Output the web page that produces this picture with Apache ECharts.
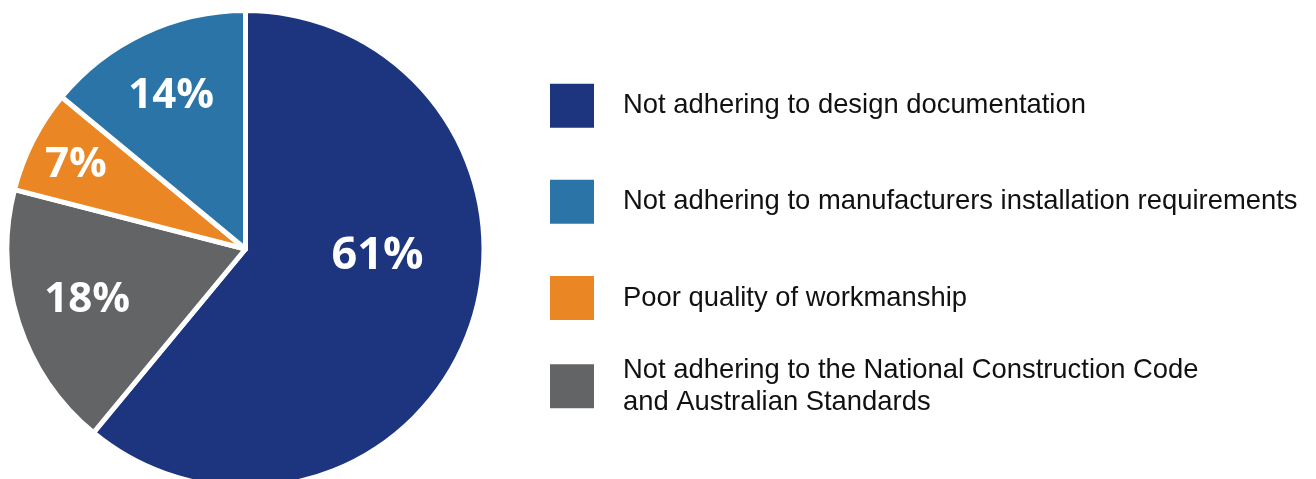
<!DOCTYPE html>
<html>
<head>
<meta charset="utf-8">
<script src="https://cdn.jsdelivr.net/npm/echarts@6/dist/echarts.min.js"></script>
<style>
  html, body { margin: 0; padding: 0; background: #ffffff; }
  #chart { width: 1316px; height: 479px; }
</style>
</head>
<body>
<div id="chart"></div>
<script>
// Causes of defects, share of total (%)
const categories = [
  'Not adhering to design documentation',
  'Not adhering to manufacturers installation requirements',
  'Poor quality of workmanship',
  'Not adhering to the National Construction Code\nand Australian Standards'
];
const shares = [61, 14, 7, 18];
const colors = ['#1d357f', '#2a74a8', '#ea8623', '#636466'];

// Slices run clockwise from 12 o'clock in this order (indices into categories)
const sliceOrder = [0, 3, 2, 1];
// Value label tweaks per category: nudge from the slice mid-radius, and font size
const labelOffsets = [[17, -34], [-22.3, -42], [-60.7, -28], [-42, 13]];
const labelSizes = [45, 42, 42, 42];

const pieData = sliceOrder.map(i => ({
  name: categories[i],
  value: shares[i],
  itemStyle: { color: colors[i] },
  label: { offset: labelOffsets[i], fontSize: labelSizes[i] }
}));

const legendText = {
  fontFamily: 'Liberation Sans, Arial, sans-serif',
  fontSize: 27.4,
  lineHeight: 31.5,
  color: '#111111',
  padding: [0, 0, 0, 23]
};
const legendBase = {
  orient: 'vertical',
  left: 548,
  padding: 0,
  icon: 'rect',
  itemWidth: 46,
  itemHeight: 46,
  selectedMode: false,
  textStyle: legendText
};

const chart = echarts.init(document.getElementById('chart'), null, { renderer: 'canvas' });
chart.setOption({
  animation: false,
  backgroundColor: '#ffffff',
  color: colors,
  legend: [
    Object.assign({}, legendBase, { top: 81.7, itemGap: 48.15, data: categories.slice(0, 3) }),
    Object.assign({}, legendBase, { top: 354.8, data: categories.slice(3) })
  ],
  series: [{
    type: 'pie',
    center: [245.5, 249],
    radius: [0, 238.5],
    startAngle: 90,
    clockwise: true,
    silent: true,
    itemStyle: { borderColor: '#ffffff', borderWidth: 5 },
    label: {
      show: true,
      position: 'inside',
      formatter: '{c}%',
      color: '#ffffff',
      fontFamily: 'Open Sans, sans-serif',
      fontWeight: 'bold'
    },
    labelLine: { show: false },
    emphasis: { disabled: true },
    data: pieData
  }]
});
</script>
</body>
</html>
